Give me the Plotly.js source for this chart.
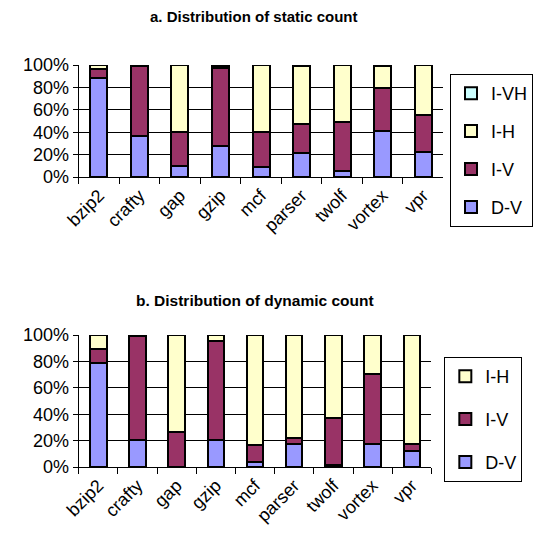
<!DOCTYPE html>
<html><head><meta charset="utf-8">
<script src="https://cdn.plot.ly/plotly-3.0.1.min.js"></script>
<style>body{margin:0;padding:0;background:#fff}#chart{width:533px;height:539px}</style>
</head><body><div id="chart"></div>
<script>
const categories = ["bzip2","crafty","gap","gzip","mcf","parser","twolf","vortex","vpr"];
// a. static count (%)
const staticDV  = [88, 37, 9.5, 28, 8.6, 21.4, 5, 40.7, 22];
const staticIV  = [8, 62, 31, 69.5, 31.2, 25.8, 44, 38.8, 33];
const staticIH  = [4, 1, 59.5, 1.5, 60.2, 52.2, 51, 19.5, 45];
const staticIVH = [0, 0, 0, 1, 0, 0.6, 0, 1, 0];
// b. dynamic count (%)
const dynDV = [78.5, 20.3, 0, 20.3, 3.8, 17.2, 1.3, 17.2, 11.9];
const dynIV = [10.9, 78.9, 26.6, 75.1, 12.7, 4.8, 35.9, 53.2, 5.8];
const dynIH = [10.6, 0.8, 73.4, 4.6, 83.5, 78, 62.8, 29.6, 82.3];
const yTicks = [0,20,40,60,80,100];
const yTickText = ["0%","20%","40%","60%","80%","100%"];

const colors = {DV:"#9999FF", IV:"#993366", IH:"#FFFFCC", IVH:"#CCFFFF"};
const font = "Liberation Sans, Arial, sans-serif";

function bar(name, y, color, xa, ya, leg, grp, rank){
  return {type:"bar", name:name, x:categories, y:y, xaxis:xa, yaxis:ya, legend:leg, legendgroup:grp,
    legendrank:rank, width:0.42, marker:{color:color, line:{color:"#000", width:2}}, hoverinfo:"y+name"};
}
const data = [
  bar("D-V", staticDV, colors.DV, "x", "y", "legend", "a1", 4),
  bar("I-V", staticIV, colors.IV, "x", "y", "legend", "a2", 3),
  bar("I-H", staticIH, colors.IH, "x", "y", "legend", "a3", 2),
  bar("I-VH", staticIVH, colors.IVH, "x", "y", "legend", "a4", 1),
  bar("D-V", dynDV, colors.DV, "x2", "y2", "legend2", "b1", 3),
  bar("I-V", dynIV, colors.IV, "x2", "y2", "legend2", "b2", 2),
  bar("I-H", dynIH, colors.IH, "x2", "y2", "legend2", "b3", 1)
];
function xax(dom, anchor){
  return {domain:dom, anchor:anchor, showline:true, linecolor:"#000", linewidth:1,
    ticks:"outside", tickson:"boundaries", ticklen:6, tickcolor:"#000", tickangle:-45,
    tickfont:{family:font, size:18, color:"#000"}, showgrid:false, fixedrange:true};
}
function yax(dom, anchor){
  return {domain:dom, anchor:anchor, range:[0,100], tickmode:"array", tickvals:yTicks, ticktext:yTickText,
    showline:true, linecolor:"#000", linewidth:1, ticks:"outside", ticklen:5, tickcolor:"#000",
    showgrid:true, gridcolor:"#000", gridwidth:1, zeroline:false,
    tickfont:{family:font, size:18, color:"#000"}, fixedrange:true};
}
const legBase = {bgcolor:"#fff", bordercolor:"#000", borderwidth:1, traceorder:"grouped",
  font:{family:font, size:18, color:"#000"}, xanchor:"left", yanchor:"top", itemclick:false};
const layout = {
  width:533, height:539, margin:{l:0,r:0,t:0,b:0}, paper_bgcolor:"#fff", plot_bgcolor:"#fff",
  barmode:"stack", font:{family:font, color:"#000"},
  xaxis: xax([79/533, 445/533], "y"),
  yaxis: yax([1-177/539, 1-65/539], "x"),
  xaxis2: xax([79/533, 433/533], "y2"),
  yaxis2: yax([1-467/539, 1-335/539], "x2"),
  legend: Object.assign({}, legBase, {x:452/533, y:1-74/539, tracegroupgap:11.5}),
  legend2: Object.assign({}, legBase, {x:446/533, y:1-357/539, tracegroupgap:16.5}),
  annotations:[
    {text:"<b>a. Distribution of static count</b>", xref:"paper", yref:"paper", x:255/533, y:1-17/539,
     xanchor:"center", yanchor:"middle", showarrow:false, font:{family:font, size:15, color:"#000"}},
    {text:"<b>b. Distribution of dynamic count</b>", xref:"paper", yref:"paper", x:256/533, y:1-300/539,
     xanchor:"center", yanchor:"middle", showarrow:false, font:{family:font, size:15.5, color:"#000"}}
  ]
};
Plotly.newPlot("chart", data, layout, {displayModeBar:false});
</script></body></html>
